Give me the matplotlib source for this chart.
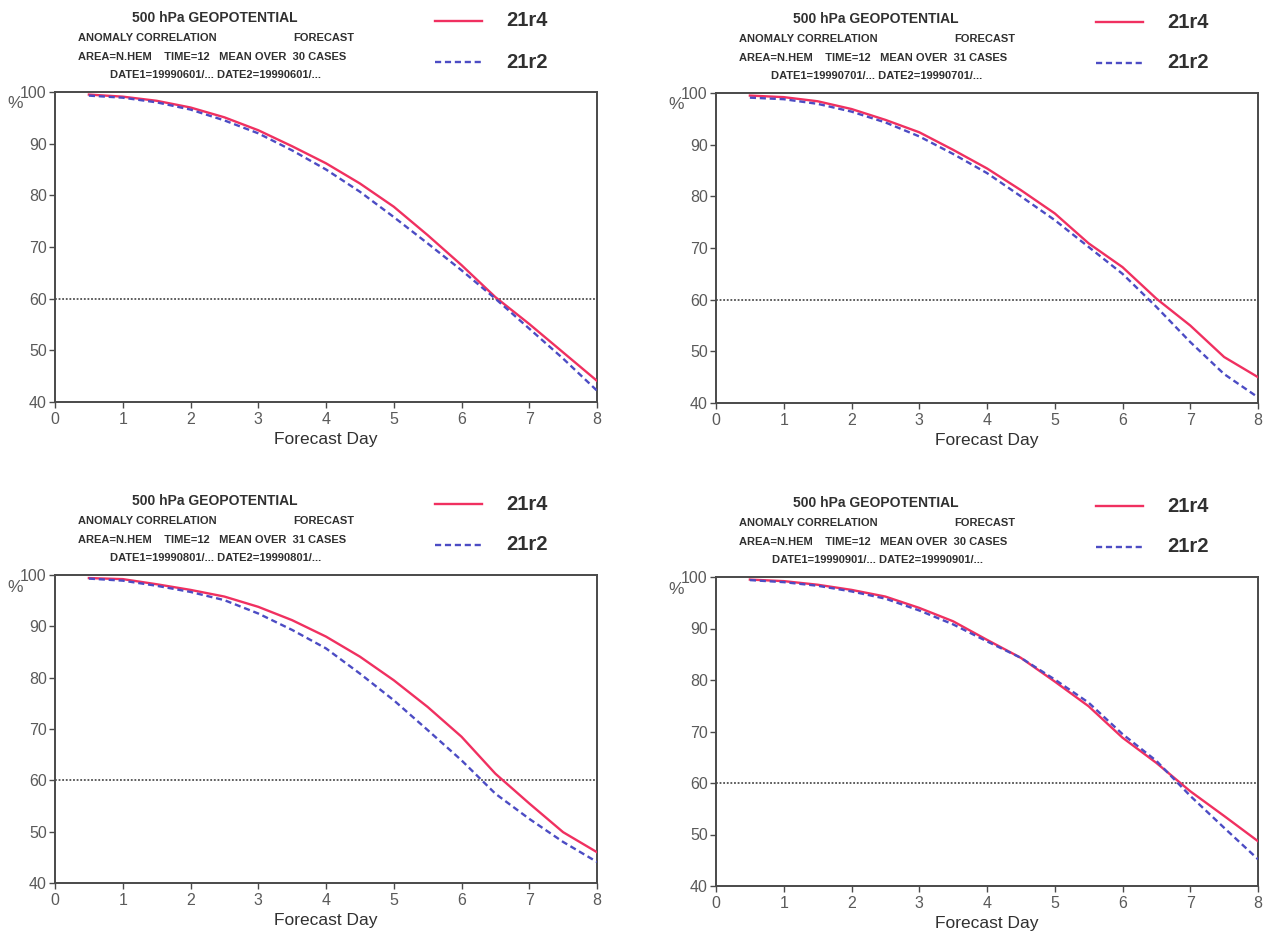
import matplotlib
matplotlib.use("Agg")
import matplotlib.pyplot as plt
from matplotlib.lines import Line2D

# Forecast days (12 UTC verification every half day)
days = [0.5, 1.0, 1.5, 2.0, 2.5, 3.0, 3.5, 4.0, 4.5, 5.0, 5.5, 6.0, 6.5, 7.0, 7.5, 8.0]

# Anomaly correlation (%) of 500 hPa geopotential, N. Hemisphere
jun_21r4 = [99.5, 99.1, 98.3, 97.0, 95.1, 92.6, 89.5, 86.2, 82.3, 77.8, 72.3, 66.5, 60.3, 55.1, 49.6, 44.1]
jun_21r2 = [99.3, 98.9, 98.0, 96.6, 94.5, 92.0, 88.7, 85.0, 80.7, 75.8, 70.7, 65.5, 60.0, 54.2, 48.4, 42.2]

jul_21r4 = [99.5, 99.2, 98.4, 96.9, 94.8, 92.4, 89.0, 85.4, 81.2, 76.7, 70.9, 66.3, 60.2, 55.0, 48.9, 45.0]
jul_21r2 = [99.1, 98.8, 97.9, 96.4, 94.3, 91.6, 88.2, 84.5, 80.0, 75.4, 70.2, 65.0, 58.6, 51.8, 45.6, 41.1]

aug_21r4 = [99.4, 99.2, 98.2, 97.1, 95.8, 93.8, 91.2, 88.0, 84.1, 79.5, 74.3, 68.5, 61.3, 55.5, 49.9, 46.0]
aug_21r2 = [99.3, 98.9, 97.9, 96.7, 95.1, 92.5, 89.3, 85.7, 80.8, 75.6, 69.8, 63.9, 57.4, 52.5, 48.0, 44.1]

sep_21r4 = [99.5, 99.2, 98.5, 97.5, 96.2, 94.0, 91.4, 87.8, 84.3, 79.7, 74.9, 68.8, 63.9, 58.4, 53.6, 48.7]
sep_21r2 = [99.4, 99.0, 98.3, 97.2, 95.8, 93.5, 90.8, 87.5, 84.3, 80.1, 75.6, 69.5, 64.3, 57.5, 51.3, 45.2]

panels = [
    ("30", "19990601", jun_21r4, jun_21r2),
    ("31", "19990701", jul_21r4, jul_21r2),
    ("31", "19990801", aug_21r4, aug_21r2),
    ("30", "19990901", sep_21r4, sep_21r2),
]

x_ticks = [0, 1, 2, 3, 4, 5, 6, 7, 8]
y_ticks = [40, 50, 60, 70, 80, 90, 100]
threshold = 60

W, H = 1264, 931
# axes boxes in pixels: left, top, right, bottom
boxes = [
    (55, 92, 597, 402),
    (716, 93, 1258, 403),
    (55, 575, 597, 883),
    (716, 577, 1258, 886),
]

RED = "#f03060"
BLUE = "#4c4cc4"
TXT = "#303030"
TICK = "#5a5a5a"
FRAME = "#4a4a4a"
DASH = (0, (2.6, 1.6))

head_font = ["Liberation Sans", "DejaVu Sans"]
body_font = ["Liberation Sans", "DejaVu Sans"]

fig = plt.figure(figsize=(W / 100, H / 100), dpi=100)
fig.patch.set_facecolor("white")


def fx(x):
    return x / W


def fy(y):
    return 1 - y / H


for (cases, date, s4, s2), (l, t, r, b) in zip(panels, boxes):
    ax = fig.add_axes([fx(l), fy(b), fx(r) - fx(l), (b - t) / H])
    ax.plot(days, s4, color=RED, lw=1.7, zorder=3)
    ax.plot(days, s2, color=BLUE, lw=1.7, ls=DASH, zorder=3)
    ax.axhline(threshold, color="#505050", lw=1.3, ls=(0, (1, 1)), zorder=2)
    ax.set_xlim(0, 8)
    ax.set_ylim(40, 100)
    ax.set_xticks(x_ticks)
    ax.set_yticks(y_ticks)
    ax.tick_params(colors=FRAME, labelcolor=TICK, labelsize=11.5, length=4,
                   width=1.0)
    ax.tick_params(axis="x", pad=3)
    ax.tick_params(axis="y", pad=2)
    for lab in ax.get_xticklabels() + ax.get_yticklabels():
        lab.set_family(body_font)
    for sp in ax.spines.values():
        sp.set_color(FRAME)
        sp.set_linewidth(1.4)
    ax.set_xlabel("Forecast Day", fontsize=12.5, color=TXT, family=body_font, labelpad=4)
    fig.text(fx(l - 48), fy(t + 12), "%", fontsize=12.5, color=TICK, family=body_font,
             ha="left", va="center")

    # header block
    fig.text(fx(l + 160), fy(t - 74), "500 hPa GEOPOTENTIAL", fontsize=10, weight="bold",
             color=TXT, family=head_font, ha="center", va="center")
    fig.text(fx(l + 23), fy(t - 54), "ANOMALY CORRELATION", fontsize=8, weight="bold",
             color=TXT, family=head_font, ha="left", va="center")
    fig.text(fx(l + 299), fy(t - 54), "FORECAST", fontsize=8, weight="bold",
             color=TXT, family=head_font, ha="right", va="center")
    fig.text(fx(l + 23), fy(t - 35),
             f"AREA=N.HEM    TIME=12   MEAN OVER  {cases} CASES", fontsize=8,
             weight="bold", color=TXT, family=head_font, ha="left", va="center")
    fig.text(fx(l + 161), fy(t - 17), f"DATE1={date}/... DATE2={date}/...",
             fontsize=8, weight="bold", color=TXT, family=head_font,
             ha="center", va="center")

    # legend entries
    for dy, col, ls, name in [(-71, RED, "-", "21r4"), (-30, BLUE, DASH, "21r2")]:
        fig.add_artist(Line2D([fx(l + 380), fx(l + 427)], [fy(t + dy), fy(t + dy)],
                              color=col, lw=1.7, ls=ls, transform=fig.transFigure))
        fig.text(fx(l + 451), fy(t + dy), name, fontsize=14.5, weight="bold",
                 color=TXT, family=body_font, ha="left", va="center")

fig.savefig("out.png", dpi=100, facecolor="white")
